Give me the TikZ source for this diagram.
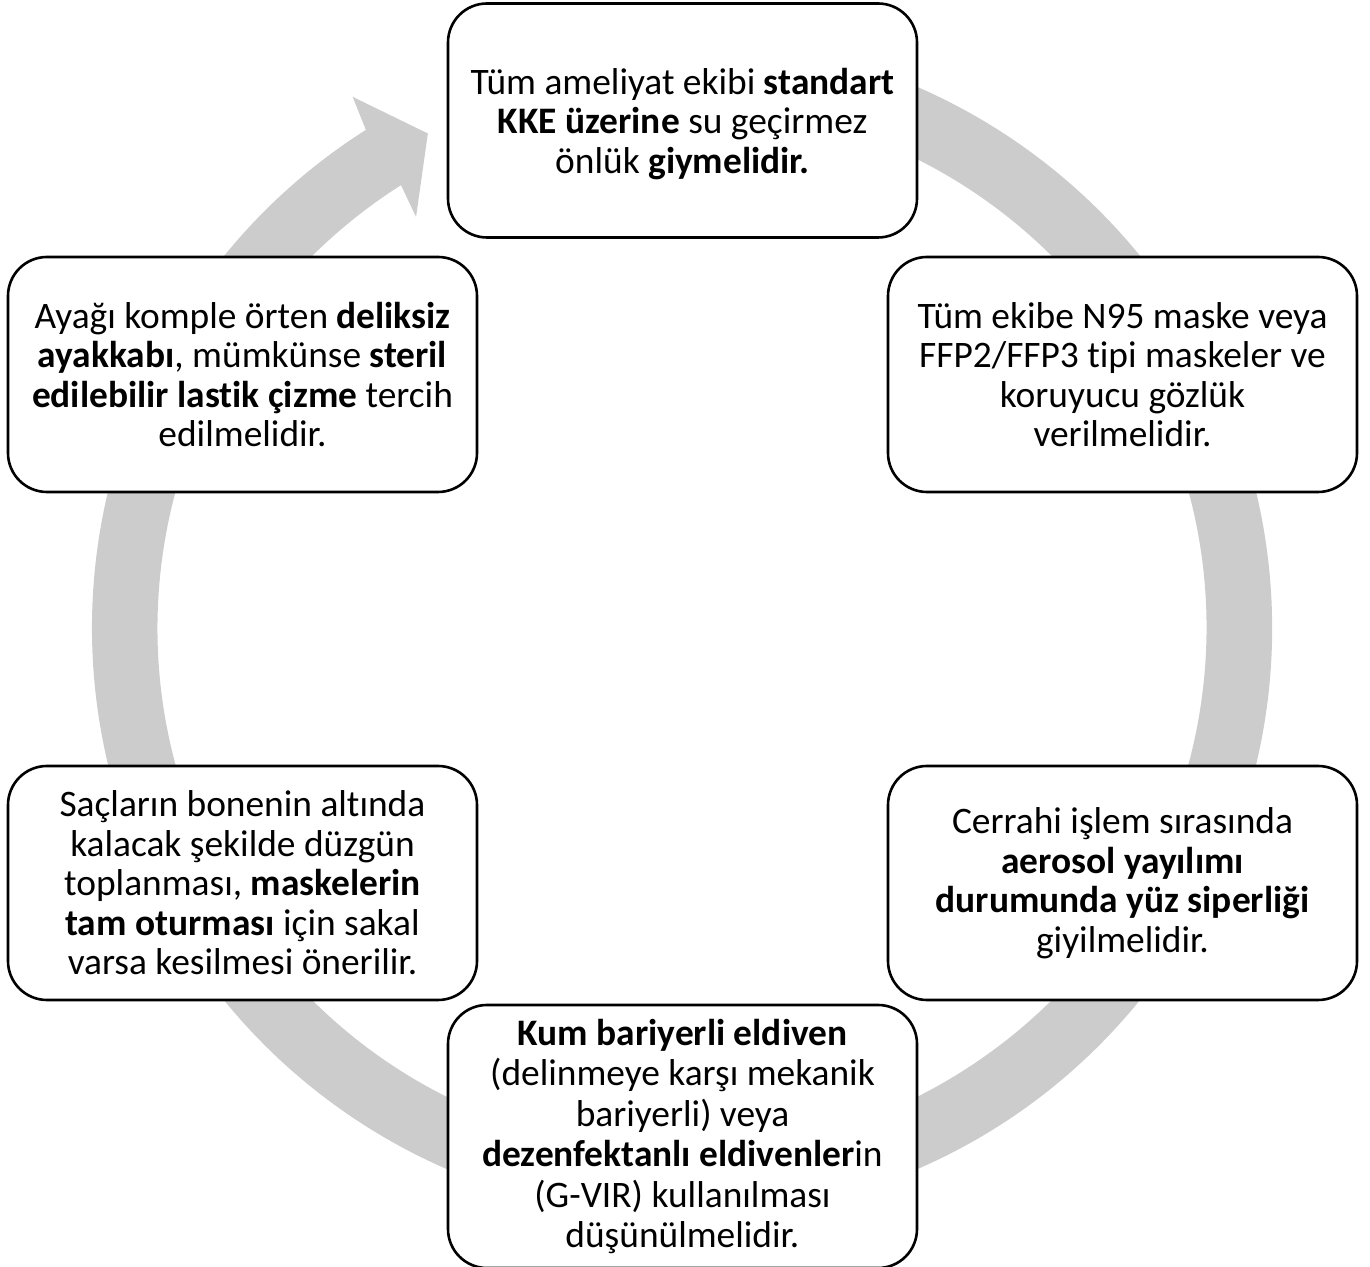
\documentclass[tikz,border=0pt]{standalone}
\usepackage{fontspec}
\setmainfont{Carlito}[Ligatures={NoCommon}]
\definecolor{ringgray}{RGB}{204,204,204}
\begin{document}
\begin{tikzpicture}[x=1pt,y=1pt,
  stepbox/.style={draw=black, line width=2.6pt, fill=white, rounded corners=39pt,
    minimum width=469pt, minimum height=234pt, inner sep=0pt, align=center,
    font=\fontsize{37.4}{39.5}\selectfont}]
\useasboundingbox (0,0) rectangle (1370,1266);
% ring arrow
\coordinate (c) at (682,638);
\fill[ringgray]
  ([shift={(c)}]105:590pt) arc[start angle=105, end angle=-237.6, radius=590pt]
  -- ([shift={(c)}]-238.2:625pt)
  -- ([shift={(c)}]-242.8:556pt)
  -- ([shift={(c)}]-237.1:489.6pt)
  -- ([shift={(c)}]-237.6:524.5pt)
  arc[start angle=-237.6, end angle=105, radius=524.5pt] -- cycle;
% boxes
\node[stepbox, text depth=0pt] (n1) at (682.5,1145.5) {Tüm ameliyat ekibi \textbf{standart}\\ \textbf{KKE üzerine} su geçirmez\\ önlük \textbf{giymelidir.}};
\node[stepbox, minimum height=235pt] (n2) at (1122.5,891.5) {Tüm ekibe N95 maske veya\\ FFP2/FFP3 tipi maskeler ve\\ koruyucu gözlük\\ verilmelidir.};
\node[stepbox] (n3) at (1122.5,383) {Cerrahi işlem sırasında\\ \textbf{aerosol yayılımı}\\ \textbf{durumunda yüz siperliği}\\ giyilmelidir.};
\node[stepbox, minimum height=263pt, font=\fontsize{37.4}{40.4}\selectfont] (n4) at (682.5,129.5) {\textbf{Kum bariyerli eldiven}\\ (delinmeye karşı mekanik\\ bariyerli) veya\\ \textbf{dezenfektanlı eldivenler}in\\ (G-VIR) kullanılması\\ düşünülmelidir.};
\node[stepbox] (n5) at (242.5,383) {Saçların bonenin altında\\ kalacak şekilde düzgün\\ toplanması, \textbf{maskelerin}\\ \textbf{tam oturması} için sakal\\ varsa kesilmesi önerilir.};
\node[stepbox, minimum height=235pt] (n6) at (242.5,891.5) {Ayağı komple örten \textbf{deliksiz}\\ \textbf{ayakkabı}, mümkünse \textbf{steril}\\ \textbf{edilebilir lastik çizme} tercih\\ edilmelidir.};
\end{tikzpicture}
\end{document}
